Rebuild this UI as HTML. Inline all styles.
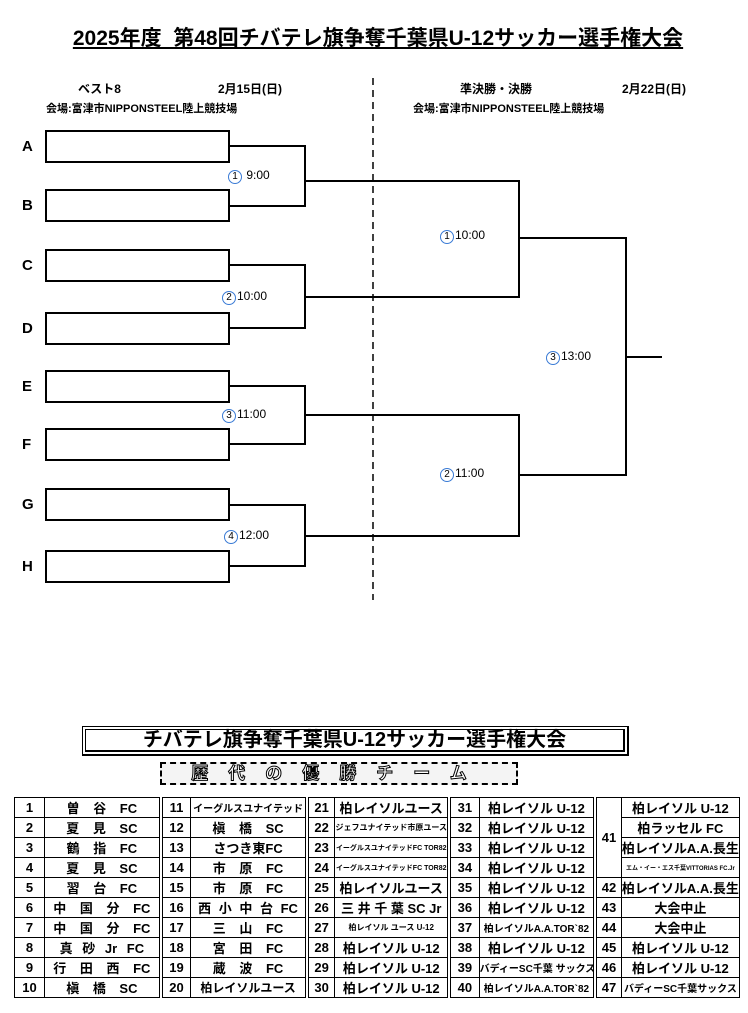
<!DOCTYPE html>
<html><head><meta charset="utf-8">
<style>
body{margin:0;width:748px;height:1013px;background:#fff;position:relative;font-family:"Liberation Sans","Noto Sans CJK JP",sans-serif;color:#000;overflow:hidden}
.a{position:absolute;white-space:nowrap}
.b{font-weight:bold}
.box{position:absolute;left:45px;width:181px;height:29px;border:2px solid #000}
.lt{position:absolute;left:22px;font-weight:bold;font-size:15px}
.tm{position:absolute;font-size:12px;white-space:nowrap}
.c{display:inline-block;border:1px solid #3a7bd5;border-radius:50%;width:12px;height:12px;line-height:12px;text-align:center;font-size:10px;margin-right:1px}
table{position:absolute;left:14px;top:797px;border-collapse:collapse;width:726px;font-weight:bold;font-size:13px;table-layout:fixed}
td{border:1.5px solid #000;height:19px;padding:0;text-align:center;white-space:nowrap;overflow:hidden}
td.d{border-left:4px double #000}
td.w{word-spacing:10px}
.s{font-size:8px}.xs{font-size:6px}
</style></head><body>
<div class="a b" style="left:0;width:756px;top:22px;text-align:center;font-size:21px;text-decoration:underline">2025年度&nbsp;&nbsp;第48回チバテレ旗争奪千葉県U-12サッカー選手権大会</div>

<div class="a b" style="left:78px;top:80px;font-size:12px">ベスト8</div>
<div class="a b" style="left:218px;top:80px;font-size:12px">2月15日(日)</div>
<div class="a b" style="left:46px;top:100px;font-size:11px">会場:富津市NIPPONSTEEL陸上競技場</div>
<div class="a b" style="left:460px;top:80px;font-size:12px">準決勝・決勝</div>
<div class="a b" style="left:622px;top:80px;font-size:12px">2月22日(日)</div>
<div class="a b" style="left:413px;top:100px;font-size:11px">会場:富津市NIPPONSTEEL陸上競技場</div>

<div class="box" style="top:130px"></div><div class="lt" style="top:138px">A</div>
<div class="box" style="top:189px"></div><div class="lt" style="top:197px">B</div>
<div class="box" style="top:249px"></div><div class="lt" style="top:257px">C</div>
<div class="box" style="top:312px"></div><div class="lt" style="top:320px">D</div>
<div class="box" style="top:370px"></div><div class="lt" style="top:378px">E</div>
<div class="box" style="top:428px"></div><div class="lt" style="top:436px">F</div>
<div class="box" style="top:488px"></div><div class="lt" style="top:496px">G</div>
<div class="box" style="top:550px"></div><div class="lt" style="top:558px">H</div>

<svg class="a" style="left:0;top:0" width="748" height="1013">
<g stroke="#000" stroke-width="2" fill="none">
<polyline points="228,146 305,146 305,206 228,206"/>
<polyline points="228,265 305,265 305,328 228,328"/>
<polyline points="228,386 305,386 305,444 228,444"/>
<polyline points="228,505 305,505 305,566 228,566"/>
<polyline points="305,181 519,181 519,297 305,297"/>
<polyline points="305,415 519,415 519,536 305,536"/>
<polyline points="519,238 626,238 626,475 519,475"/>
<line x1="626" y1="357" x2="662" y2="357"/>
<line x1="373" y1="78" x2="373" y2="600" stroke-width="1.5" stroke-dasharray="7,5"/>
</g></svg>

<div class="tm" style="left:228px;top:168px"><span class="c">1</span> 9:00</div>
<div class="tm" style="left:222px;top:289px"><span class="c">2</span>10:00</div>
<div class="tm" style="left:222px;top:407px"><span class="c">3</span>11:00</div>
<div class="tm" style="left:224px;top:528px"><span class="c">4</span>12:00</div>
<div class="tm" style="left:440px;top:228px"><span class="c">1</span>10:00</div>
<div class="tm" style="left:440px;top:466px"><span class="c">2</span>11:00</div>
<div class="tm" style="left:546px;top:349px"><span class="c">3</span>13:00</div>

<div class="a" style="left:82px;top:726px;width:537px;height:20px;border:4px double #000;border-width:4px 6px 6px 4px;text-align:center;font-size:20px;line-height:20px;font-weight:bold">チバテレ旗争奪千葉県U-12サッカー選手権大会</div>
<div class="a" style="left:160px;top:762px;width:354px;height:19px;border:2px dashed #000;text-align:center;font-size:17px;line-height:19px;font-weight:bold;color:#fff;-webkit-text-stroke:1px #000;letter-spacing:20px;background:#f4f4f4">歴代の優勝チーム</div>

<table>
<colgroup><col style="width:30px"><col style="width:116px"><col style="width:30px"><col style="width:116px"><col style="width:28px"><col style="width:114px"><col style="width:30px"><col style="width:116px"><col style="width:26px"><col style="width:118px"></colgroup>
<tr><td>1</td><td class="w">曽 谷 FC</td><td class="d">11</td><td style="font-size:10px">イーグルスユナイテッド</td><td class="d">21</td><td>柏レイソルユース</td><td class="d">31</td><td>柏レイソル U-12</td><td class="d" rowspan="4">41</td><td>柏レイソル U-12</td></tr>
<tr><td>2</td><td class="w">夏 見 SC</td><td class="d">12</td><td class="w">槇 橋 SC</td><td class="d">22</td><td class="s">ジェフユナイテッド市原ユース</td><td class="d">32</td><td>柏レイソル U-12</td><td>柏ラッセル FC</td></tr>
<tr><td>3</td><td class="w">鶴 指 FC</td><td class="d">13</td><td>さつき東FC</td><td class="d">23</td><td style="font-size:7px">イーグルスユナイテッドFC TOR82</td><td class="d">33</td><td>柏レイソル U-12</td><td>柏レイソルA.A.長生</td></tr>
<tr><td>4</td><td class="w">夏 見 SC</td><td class="d">14</td><td class="w">市 原 FC</td><td class="d">24</td><td style="font-size:7px">イーグルスユナイテッドFC TOR82</td><td class="d">34</td><td>柏レイソル U-12</td><td class="xs">エム・イー・エス千葉VITTORIAS FC.Jr</td></tr>
<tr><td>5</td><td class="w">習 台 FC</td><td class="d">15</td><td class="w">市 原 FC</td><td class="d">25</td><td>柏レイソルユース</td><td class="d">35</td><td>柏レイソル U-12</td><td class="d">42</td><td>柏レイソルA.A.長生</td></tr>
<tr><td>6</td><td class="w">中 国 分 FC</td><td class="d">16</td><td style="word-spacing:4px">西 小 中 台 FC</td><td class="d">26</td><td>三 井 千 葉 SC Jr</td><td class="d">36</td><td>柏レイソル U-12</td><td class="d">43</td><td>大会中止</td></tr>
<tr><td>7</td><td class="w">中 国 分 FC</td><td class="d">17</td><td class="w">三 山 FC</td><td class="d">27</td><td class="s">柏レイソル ユース U-12</td><td class="d">37</td><td style="font-size:10px">柏レイソルA.A.TOR`82</td><td class="d">44</td><td>大会中止</td></tr>
<tr><td>8</td><td style="word-spacing:6px">真 砂 Jr FC</td><td class="d">18</td><td class="w">宮 田 FC</td><td class="d">28</td><td>柏レイソル U-12</td><td class="d">38</td><td>柏レイソル U-12</td><td class="d">45</td><td>柏レイソル U-12</td></tr>
<tr><td>9</td><td class="w">行 田 西 FC</td><td class="d">19</td><td class="w">蔵 波 FC</td><td class="d">29</td><td>柏レイソル U-12</td><td class="d">39</td><td style="font-size:10px">バディーSC千葉 サックス</td><td class="d">46</td><td>柏レイソル U-12</td></tr>
<tr><td>10</td><td class="w">槇 橋 SC</td><td class="d">20</td><td style="font-size:12px">柏レイソルユース</td><td class="d">30</td><td>柏レイソル U-12</td><td class="d">40</td><td style="font-size:10px">柏レイソルA.A.TOR`82</td><td class="d">47</td><td style="font-size:10px">バディーSC千葉サックス</td></tr>
</table>
</body></html>
